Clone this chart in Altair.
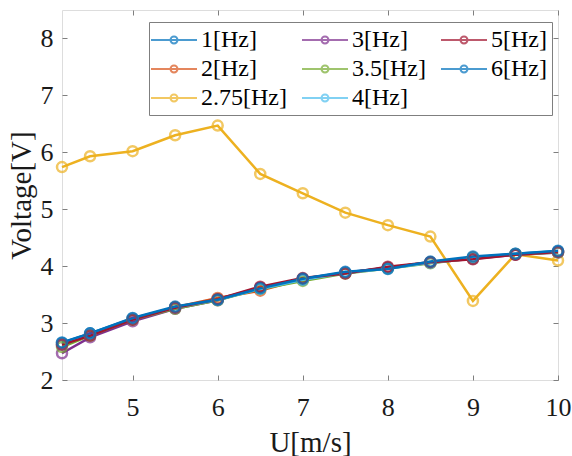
import altair as alt
import pandas as pd

speeds = [4.17, 4.5, 5, 5.5, 6, 6.5, 7, 7.5, 8, 8.5, 9, 9.5, 10]

series_names = ["1[Hz]", "2[Hz]", "2.75[Hz]", "3[Hz]", "3.5[Hz]", "4[Hz]", "5[Hz]", "6[Hz]"]
series_colors = ["#0072BD", "#D95319", "#EDB120", "#7E2F8E", "#77AC30", "#4DBEEE", "#A2142F", "#0072BD"]

v_1hz = [2.65, 2.82, 3.08, 3.28, 3.42, 3.62, 3.78, 3.89, 3.97, 4.07, 4.15, 4.22, 4.26]
v_2hz = [2.63, 2.80, 3.07, 3.28, 3.44, 3.57, 3.77, 3.88, 3.97, 4.07, 4.15, 4.21, 4.25]
v_275hz = [5.74, 5.93, 6.02, 6.30, 6.47, 5.62, 5.28, 4.94, 4.72, 4.52, 3.39, 4.21, 4.10]
v_3hz = [2.47, 2.75, 3.03, 3.25, 3.40, 3.62, 3.76, 3.88, 3.97, 4.06, 4.13, 4.20, 4.24]
v_35hz = [2.58, 2.78, 3.06, 3.25, 3.40, 3.60, 3.74, 3.87, 3.96, 4.05, 4.14, 4.21, 4.24]
v_4hz = [2.62, 2.80, 3.07, 3.27, 3.41, 3.60, 3.76, 3.88, 3.96, 4.06, 4.14, 4.21, 4.25]
v_5hz = [2.62, 2.78, 3.06, 3.27, 3.42, 3.64, 3.79, 3.87, 3.99, 4.07, 4.12, 4.20, 4.25]
v_6hz = [2.66, 2.82, 3.09, 3.29, 3.41, 3.61, 3.78, 3.90, 3.95, 4.08, 4.17, 4.22, 4.27]

all_values = [v_1hz, v_2hz, v_275hz, v_3hz, v_35hz, v_4hz, v_5hz, v_6hz]

x_ticks = [5, 6, 7, 8, 9, 10]
y_ticks = [2, 3, 4, 5, 6, 7, 8]

rows = []
for name, vals in zip(series_names, all_values):
    for s, v in zip(speeds, vals):
        rows.append({"U": s, "V": v, "series": name})
df = pd.DataFrame(rows)

FONT = "Liberation Serif, Times New Roman, Times, serif"
GREY = "#7f7f7f"
TXT = "#1a1a1a"
W, H = 496, 370

xscale = alt.Scale(domain=[4.17, 10], nice=False, zero=False)
yscale = alt.Scale(domain=[2, 8.5], nice=False, zero=False)
cscale = alt.Scale(domain=series_names, range=series_colors)

# symbol: unit scale = sqrt(576)/2 = 12 px; line half-length 23 px, circle radius 3.5 px
sym_path = ("M-1.917,0H1.917 M0.29,0A0.29,0.29 0 1 1 -0.29,0"
            "A0.29,0.29 0 1 1 0.29,0")

legend = alt.Legend(
    title=None, orient="none", legendX=87, legendY=12, columns=3,
    direction="vertical",
    symbolType=sym_path, symbolSize=576, symbolStrokeWidth=2, symbolOffset=7,
    labelFont=FONT, labelFontSize=24, labelColor="black", labelOffset=14,
    labelLimit=0, columnPadding=10, rowPadding=4, padding=5,
    strokeColor=GREY, fillColor="white",
)

main_x = alt.X("U:Q", scale=xscale, title="U[m/s]",
               axis=alt.Axis(values=x_ticks, orient="bottom", ticks=False, tickSize=0,
                             domain=False, grid=False, labelFont=FONT, labelFontSize=26,
                             labelColor=TXT, labelPadding=35,
                             labelBaseline="alphabetic", titleFont=FONT,
                             titleFontSize=29, titleFontWeight="normal",
                             titleColor=TXT, titleBaseline="alphabetic",
                             titleY=71, labelFlush=False))
main_y = alt.Y("V:Q", scale=yscale, title="Voltage[V]",
               axis=alt.Axis(values=y_ticks, orient="left", ticks=False, tickSize=0,
                             domain=False, grid=False, labelFont=FONT, labelFontSize=26,
                             labelColor=TXT, labelPadding=9, titleFont=FONT,
                             titleFontSize=29, titleFontWeight="normal",
                             titleColor=TXT, titleBaseline="alphabetic",
                             titleX=-32, labelFlush=False))

lines = alt.Chart(df).mark_line(strokeWidth=2.5).encode(
    x=main_x, y=main_y,
    color=alt.Color("series:N", scale=cscale, legend=legend),
    detail="series:N",
)

def tick_axis(orient, vals, offset):
    return alt.Axis(values=vals, orient=orient, offset=offset, labels=False,
                    domain=False, grid=False, ticks=True, tickSize=5,
                    tickColor=GREY, tickWidth=1, title=None)

points = alt.Chart(df).mark_point(filled=False, size=100, strokeWidth=2.5).encode(
    x=alt.X("U:Q", scale=xscale, axis=tick_axis("top", x_ticks, -H)),
    y=alt.Y("V:Q", scale=yscale, axis=tick_axis("right", y_ticks, -W)),
    color=alt.Color("series:N", scale=cscale, legend=legend),
)

ghost = alt.Chart(df).mark_point(opacity=0).encode(
    x=alt.X("U:Q", scale=xscale, axis=tick_axis("bottom", x_ticks, -H)),
    y=alt.Y("V:Q", scale=yscale, axis=tick_axis("left", y_ticks, -W)),
)

chart = alt.layer(lines, points, ghost).resolve_axis(
    x="independent", y="independent"
).properties(
    width=W, height=H,
    padding={"left": 62, "top": 10, "right": 14, "bottom": 76},
    autosize=alt.AutoSizeParams(type="none"),
).configure_view(
    stroke=GREY, strokeWidth=1
).configure(background="white")

chart.save("out.html", embed_options={"renderer": "svg", "actions": False})
